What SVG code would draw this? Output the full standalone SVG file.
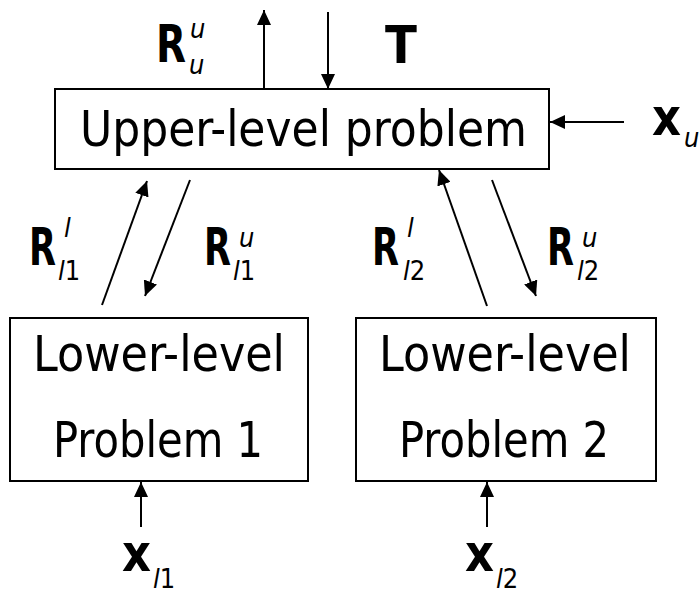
<svg xmlns="http://www.w3.org/2000/svg" width="700" height="595" viewBox="0 0 700 595">
<style>
.box{fill:#fff;stroke:#000;stroke-width:2}
.t{font-family:"DejaVu Sans Condensed","DejaVu Sans",sans-serif;font-size:50px;fill:#000;text-anchor:middle}
.b{font-family:"DejaVu Sans Condensed","DejaVu Sans",sans-serif;font-size:52px;font-weight:bold;fill:#000}
.s{font-family:"DejaVu Sans Condensed","DejaVu Sans",sans-serif;font-size:27px;fill:#000}
.i{font-style:italic}
.c line{stroke:#000;stroke-width:2;marker-end:url(#ah)}
</style>
<defs>
<marker id="ah" viewBox="0 0 15 14" refX="15" refY="7" markerWidth="15" markerHeight="14" markerUnits="userSpaceOnUse" orient="auto">
<path d="M0,0 L15,7 L0,14 Z" fill="#000"/>
</marker>
</defs>
<g id="upper">
<rect class="box" x="55" y="89" width="494" height="80"/>
<text class="t" x="303.5" y="146" textLength="447" lengthAdjust="spacingAndGlyphs">Upper-level problem</text>
</g>
<g id="lower1">
<rect class="box" x="10" y="318" width="298" height="163"/>
<text class="t" x="159" y="371" textLength="252" lengthAdjust="spacingAndGlyphs">Lower-level</text>
<text class="t" x="158" y="457" textLength="210" lengthAdjust="spacingAndGlyphs">Problem 1</text>
</g>
<g id="lower2">
<rect class="box" x="356" y="318" width="300" height="163"/>
<text class="t" x="505" y="371" textLength="252" lengthAdjust="spacingAndGlyphs">Lower-level</text>
<text class="t" x="504" y="457" textLength="210" lengthAdjust="spacingAndGlyphs">Problem 2</text>
</g>
<g class="c" id="connectors">
<line x1="264" y1="89" x2="264" y2="10"/>
<line x1="328" y1="12" x2="328" y2="89"/>
<line x1="624" y1="122" x2="550" y2="122"/>
<line x1="102" y1="305" x2="147" y2="181"/>
<line x1="190" y1="180" x2="145" y2="296"/>
<line x1="487" y1="306" x2="439" y2="170"/>
<line x1="492" y1="180" x2="536" y2="296"/>
<line x1="141" y1="527" x2="141" y2="482"/>
<line x1="487" y1="527" x2="487" y2="482"/>
</g>
<g id="labels">
<text class="b" x="156" y="62" textLength="30" lengthAdjust="spacingAndGlyphs">R</text><text class="s i" x="190" y="38">u</text><text class="s i" x="189" y="74">u</text>
<text class="b" x="385" y="63">T</text>
<text class="b" x="652" y="135" textLength="29" lengthAdjust="spacingAndGlyphs">x</text><text class="s i" x="684" y="147">u</text>
<text class="b" x="29" y="265" textLength="27" lengthAdjust="spacingAndGlyphs">R</text><text class="s i" x="64" y="237">l</text><text class="s" x="58" y="280"><tspan class="i">l</tspan>1</text>
<text class="b" x="204" y="265" textLength="27" lengthAdjust="spacingAndGlyphs">R</text><text class="s i" x="239" y="247">u</text><text class="s" x="233" y="280"><tspan class="i">l</tspan>1</text>
<text class="b" x="372" y="265" textLength="27" lengthAdjust="spacingAndGlyphs">R</text><text class="s i" x="407" y="237">l</text><text class="s" x="403" y="280"><tspan class="i">l</tspan>2</text>
<text class="b" x="547" y="265" textLength="27" lengthAdjust="spacingAndGlyphs">R</text><text class="s i" x="582" y="247">u</text><text class="s" x="577" y="280"><tspan class="i">l</tspan>2</text>
<text class="b" x="122" y="571" textLength="29" lengthAdjust="spacingAndGlyphs">x</text><text class="s" x="153" y="588"><tspan class="i">l</tspan>1</text>
<text class="b" x="465" y="571" textLength="29" lengthAdjust="spacingAndGlyphs">x</text><text class="s" x="496" y="588"><tspan class="i">l</tspan>2</text>
</g>
</svg>
